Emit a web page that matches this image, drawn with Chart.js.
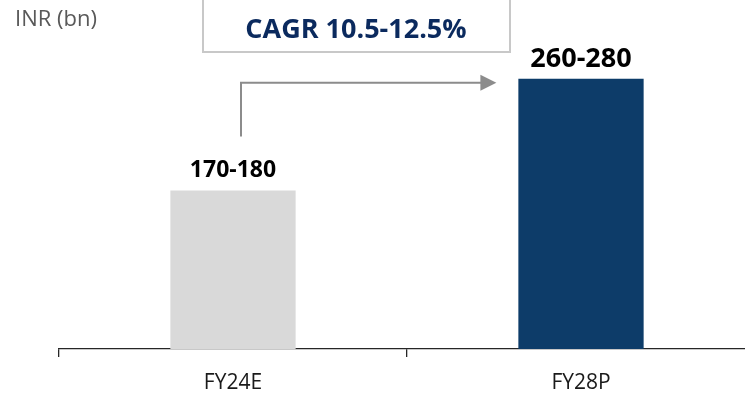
<!DOCTYPE html>
<html>
<head>
<meta charset="utf-8">
<script src="https://cdn.jsdelivr.net/npm/chart.js@4.4.1/dist/chart.umd.min.js"></script>
<style>
  html, body { margin: 0; padding: 0; background: #ffffff; }
  #wrap { position: relative; width: 745px; height: 396px; overflow: hidden; }
  #wrap canvas { position: absolute; left: 0; top: 0; }
</style>
</head>
<body>
<div id="wrap"><canvas id="c" width="800" height="396"></canvas></div>
<script>
// Market size, INR bn
const categories = ['FY24E', 'FY28P'];
const rangeLabels = ['170-180', '260-280'];
const midValues = [175, 270];
const barColors = ['#d9d9d9', '#0d3c69'];
const unitLabel = 'INR (bn)';
const cagrLabel = 'CAGR 10.5-12.5%';

const FONT = '"Open Sans", "Liberation Sans", sans-serif';

const overlay = {
  id: 'overlay',
  afterDatasetsDraw(chart) {
    const ctx = chart.ctx;
    const bars = chart.getDatasetMeta(0).data;
    ctx.save();

    // unit caption
    ctx.fillStyle = '#595959';
    ctx.font = '22px ' + FONT;
    ctx.textAlign = 'left';
    ctx.textBaseline = 'middle';
    ctx.fillText(unitLabel, 15, 20);

    // value labels above bars
    ctx.fillStyle = '#000000';
    ctx.textAlign = 'center';
    ctx.textBaseline = 'alphabetic';
    ctx.font = 'bold 23px ' + FONT;
    ctx.fillText(rangeLabels[0], bars[0].x, bars[0].y - 13);
    ctx.font = 'bold 27px ' + FONT;
    ctx.fillText(rangeLabels[1], bars[1].x, bars[1].y - 12);

    // growth arrow
    const x0 = bars[0].x + 8;
    const yStart = bars[0].y - 54;
    const yTop = bars[1].y + 4;
    const xTip = bars[1].x - bars[1].width / 2 - 22;
    ctx.strokeStyle = '#8c8c8c';
    ctx.fillStyle = '#8c8c8c';
    ctx.lineWidth = 2;
    ctx.beginPath();
    ctx.moveTo(x0, yStart);
    ctx.lineTo(x0, yTop);
    ctx.lineTo(xTip - 14, yTop);
    ctx.stroke();
    ctx.beginPath();
    ctx.moveTo(xTip, yTop);
    ctx.lineTo(xTip - 16, yTop - 8);
    ctx.lineTo(xTip - 16, yTop + 8);
    ctx.closePath();
    ctx.fill();

    // CAGR box
    ctx.strokeStyle = '#c8c8c8';
    ctx.lineWidth = 2;
    ctx.fillStyle = '#ffffff';
    ctx.fillRect(203, -2, 307, 54);
    ctx.strokeRect(203, -2, 307, 54);
    ctx.fillStyle = '#0b2a5e';
    ctx.font = 'bold 27px ' + FONT;
    ctx.textAlign = 'center';
    ctx.textBaseline = 'alphabetic';
    ctx.fillText(cagrLabel, 356, 38);

    ctx.restore();
  }
};

new Chart(document.getElementById('c'), {
  type: 'bar',
  data: {
    labels: categories,
    datasets: [{
      data: midValues,
      backgroundColor: barColors,
      borderWidth: 0,
      barPercentage: 0.36,
      categoryPercentage: 1.0
    }]
  },
  options: {
    responsive: false,
    animation: false,
    devicePixelRatio: 1,
    layout: { padding: { left: 59, right: 45, top: 20, bottom: 0 } },
    plugins: { legend: { display: false }, tooltip: { enabled: false } },
    scales: {
      x: {
        afterFit(scale) { scale.height = 47; },
        border: { display: true, color: '#262626', width: 1.3 },
        grid: { display: true, drawOnChartArea: false, drawTicks: true, tickLength: 8, color: '#262626', lineWidth: 1.3, offset: true },
        ticks: { color: '#1a1a1a', font: { family: FONT, size: 21 }, padding: 13 }
      },
      y: {
        display: false,
        min: 40,
        max: 320
      }
    }
  },
  plugins: [overlay]
});
</script>
</body>
</html>
